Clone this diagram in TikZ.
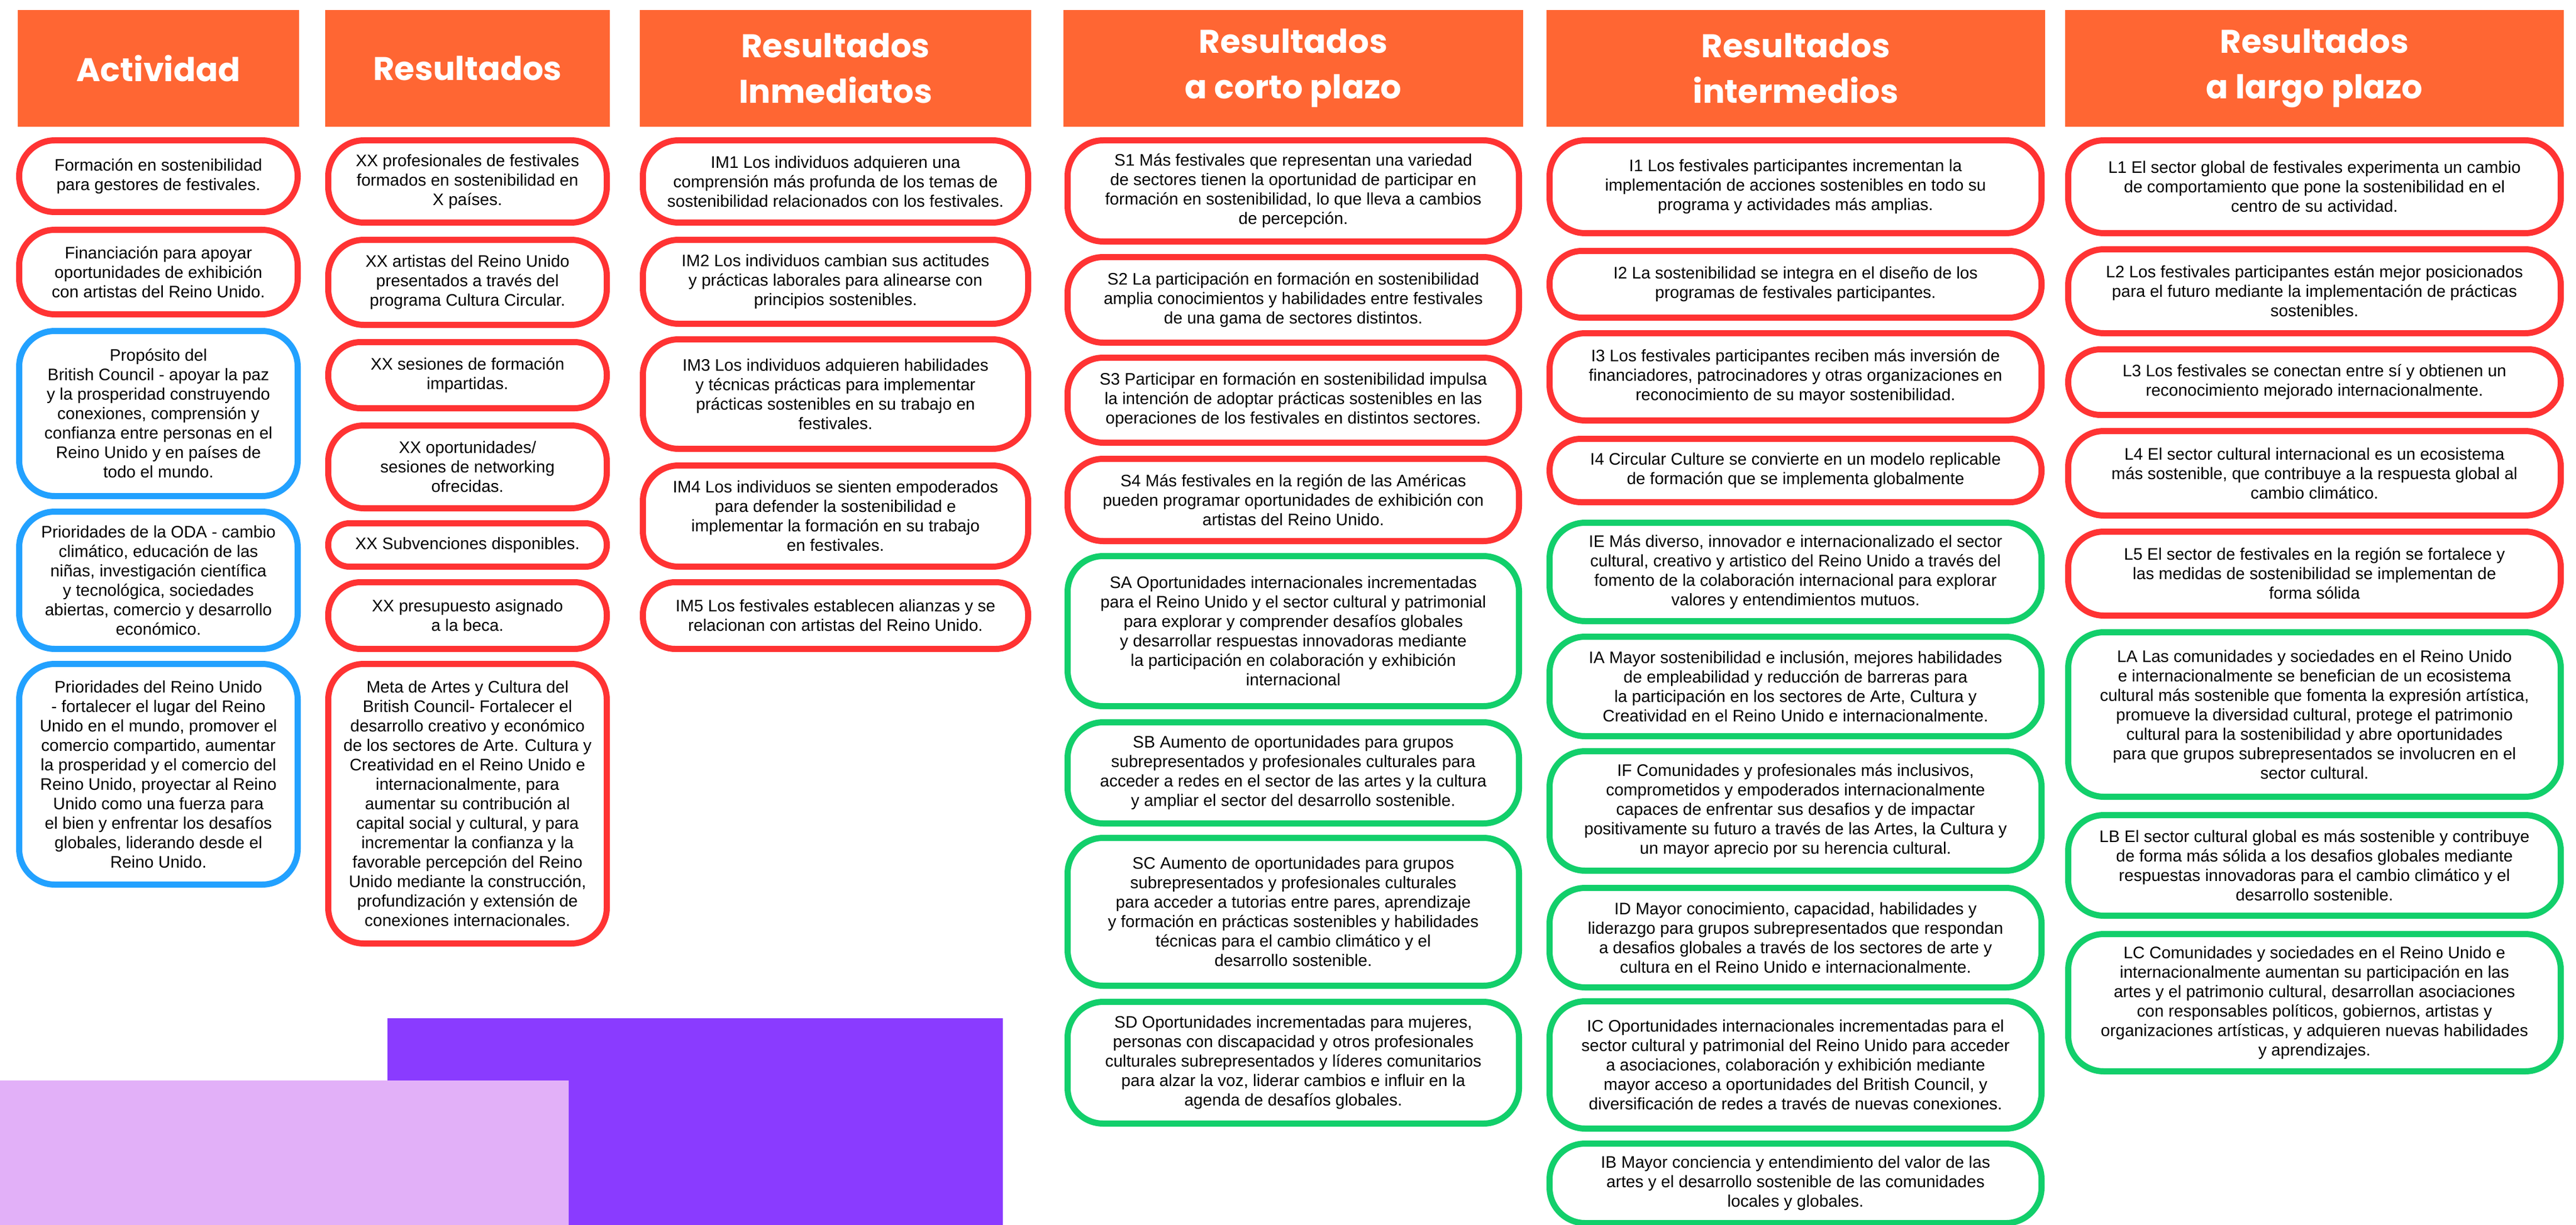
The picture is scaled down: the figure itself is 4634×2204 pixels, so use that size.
\documentclass[tikz,border=0pt]{standalone}
\usepackage{fontspec}
\setmainfont{Liberation Sans}
\newfontfamily\headfont{Poppins}
\definecolor{bcorange}{HTML}{FF6633}
\definecolor{bcred}{HTML}{FF3333}
\definecolor{bcblue}{HTML}{22A1FF}
\definecolor{bcgreen}{HTML}{12CF6B}
\definecolor{bcpurple}{HTML}{8A3BFF}
\definecolor{bclilac}{HTML}{E2B0F8}
\begin{document}
\begin{tikzpicture}[x=0.5pt,y=-0.5pt,
    head/.style={fill=bcorange, text=white, align=center, inner sep=0pt,
      minimum height=105pt, font=\headfont\bfseries\fontsize{29.5pt}{41pt}\selectfont},
    box/.style={draw, line width=5.5pt, fill=white, rounded corners=32pt,
      align=center, inner sep=0pt, font=\fontsize{15pt}{17.5pt}\selectfont},
    redbox/.style={box, draw=bcred},
    bluebox/.style={box, draw=bcblue},
    greenbox/.style={box, draw=bcgreen},
    colact/.style={minimum width=250.5pt},
    colres/.style={minimum width=250.5pt},
    colinm/.style={minimum width=346.5pt},
    colcor/.style={minimum width=406pt},
    colint/.style={minimum width=442.5pt},
    collar/.style={minimum width=443pt}]
  \useasboundingbox (0,0) rectangle (4634,2204);
  \fill[bcpurple] (697,1832) rectangle (1804,2204);
  \fill[bclilac] (0,1944) rectangle (1023,2204);

  \node[head, minimum width=253pt] (hact) at (285,123) {Actividad};
  \node[head, minimum width=256pt] (hres) at (841,123) {Resultados};
  \node[head, minimum width=352pt] (hinm) at (1503,123) {Resultados\\Inmediatos};
  \node[head, minimum width=413.5pt] (hcor) at (2326.5,123) {Resultados\\a corto plazo};
  \node[head, minimum width=448.5pt] (hint) at (3230.5,123) {Resultados\\intermedios};
  \node[head, minimum width=448.5pt] (hlar) at (4163.5,123) {Resultados\\a largo plazo};

  \node[redbox, colact, minimum height=64.5pt] (act1) at (285,317)
    {Formación en sostenibilidad\\para gestores de festivales.};
  \node[redbox, colact, minimum height=76pt] (act2) at (285,489.5)
    {Financiación para apoyar\\oportunidades de exhibición\\con artistas del Reino Unido.};
  \node[bluebox, colact, minimum height=148.5pt] (act3) at (285,744)
    {Propósito del\\British Council - apoyar la paz\\y la prosperidad construyendo\\conexiones, comprensión y\\confianza entre personas en el\\Reino Unido y en países de\\todo el mundo.};
  \node[bluebox, colact, minimum height=123.5pt] (act4) at (285,1044)
    {Prioridades de la ODA - cambio\\climático, educación de las\\niñas, investigación científica\\y tecnológica, sociedades\\abiertas, comercio y desarrollo\\económico.};
  \node[bluebox, colact, minimum height=198.5pt] (act5) at (285,1393)
    {Prioridades del Reino Unido\\- fortalecer el lugar del Reino\\Unido en el mundo, promover el\\comercio compartido, aumentar\\la prosperidad y el comercio del\\Reino Unido, proyectar al Reino\\Unido como una fuerza para\\el bien y enfrentar los desafíos\\globales, liderando desde el\\Reino Unido.};

  \node[redbox, colres, minimum height=74pt] (res1) at (841,326.5)
    {XX profesionales de festivales\\formados en sostenibilidad en\\X países.};
  \node[redbox, colres, minimum height=76.5pt] (res2) at (841,508)
    {XX artistas del Reino Unido\\presentados a través del\\programa Cultura Circular.};
  \node[redbox, colres, minimum height=59.5pt, rounded corners=29pt] (res3) at (841,675)
    {XX sesiones de formación\\impartidas.};
  \node[redbox, colres, minimum height=74.5pt] (res4) at (841,840)
    {XX oportunidades/\\sesiones de networking\\ofrecidas.};
  \node[redbox, colres, minimum height=39pt, rounded corners=19pt] (res5) at (841,980.5)
    {XX Subvenciones disponibles.};
  \node[redbox, colres, minimum height=60pt, rounded corners=29pt] (res6) at (841,1107.5)
    {XX presupuesto asignado\\a la beca.};
  \node[redbox, colres, minimum height=251.5pt] (res7) at (841,1446)
    {Meta de Artes y Cultura del\\British Council- Fortalecer el\\desarrollo creativo y económico\\de los sectores de Arte. Cultura y\\Creatividad en el Reino Unido e\\internacionalmente, para\\aumentar su contribución al\\capital social y cultural, y para\\incrementar la confianza y la\\favorable percepción del Reino\\Unido mediante la construcción,\\profundización y extensión de\\conexiones internacionales.};

  \node[redbox, colinm, minimum height=74pt] (inm1) at (1503,326.5)
    {IM1 Los individuos adquieren una\\comprensión más profunda de los temas de\\sostenibilidad relacionados con los festivales.};
  \node[redbox, colinm, minimum height=75.5pt] (inm2) at (1503,507)
    {IM2 Los individuos cambian sus actitudes\\y prácticas laborales para alinearse con\\principios sostenibles.};
  \node[redbox, colinm, minimum height=98.5pt] (inm3) at (1503,709)
    {IM3 Los individuos adquieren habilidades\\y técnicas prácticas para implementar\\prácticas sostenibles en su trabajo en\\festivales.};
  \node[redbox, colinm, minimum height=91pt] (inm4) at (1503,928.5)
    {IM4 Los individuos se sienten empoderados\\para defender la sostenibilidad e\\implementar la formación en su trabajo\\en festivales.};
  \node[redbox, colinm, minimum height=60pt, rounded corners=29pt] (inm5) at (1503,1107.5)
    {IM5 Los festivales establecen alianzas y se\\relacionan con artistas del Reino Unido.};

  \node[redbox, colcor, minimum height=91pt] (cor1) at (2326.5,343.5)
    {S1 Más festivales que representan una variedad\\de sectores tienen la oportunidad de participar en\\formación en sostenibilidad, lo que lleva a cambios\\de percepción.};
  \node[redbox, colcor, minimum height=77pt] (cor2) at (2326.5,539.5)
    {S2 La participación en formación en sostenibilidad\\amplia conocimientos y habilidades entre festivales\\de una gama de sectores distintos.};
  \node[redbox, colcor, minimum height=76.5pt] (cor3) at (2326.5,720)
    {S3 Participar en formación en sostenibilidad impulsa\\la intención de adoptar prácticas sostenibles en las\\operaciones de los festivales en distintos sectores.};
  \node[redbox, colcor, minimum height=74pt] (cor4) at (2326.5,899.5)
    {S4 Más festivales en la región de las Américas\\pueden programar oportunidades de exhibición con\\artistas del Reino Unido.};
  \node[greenbox, colcor, minimum height=135pt] (corA) at (2326.5,1135.5)
    {SA Oportunidades internacionales incrementadas\\para el Reino Unido y el sector cultural y patrimonial\\para explorar y comprender desafíos globales\\y desarrollar respuestas innovadoras mediante\\la participación en colaboración y exhibición\\internacional};
  \node[greenbox, colcor, minimum height=91pt] (corB) at (2326.5,1390.5)
    {SB Aumento de oportunidades para grupos\\subrepresentados y profesionales culturales para\\acceder a redes en el sector de las artes y la cultura\\y ampliar el sector del desarrollo sostenible.};
  \node[greenbox, colcor, minimum height=133pt] (corC) at (2326.5,1640.5)
    {SC Aumento de oportunidades para grupos\\subrepresentados y profesionales culturales\\para acceder a tutorias entre pares, aprendizaje\\y formación en prácticas sostenibles y habilidades\\técnicas para el cambio climático y el\\desarrollo sostenible.};
  \node[greenbox, colcor, minimum height=109.5pt] (corD) at (2326.5,1912)
    {SD Oportunidades incrementadas para mujeres,\\personas con discapacidad y otros profesionales\\culturales subrepresentados y líderes comunitarios\\para alzar la voz, liderar cambios e influir en la\\agenda de desafíos globales.};

  \node[redbox, colint, minimum height=83.5pt] (int1) at (3230,336)
    {I1 Los festivales participantes incrementan la\\implementación de acciones sostenibles en todo su\\programa y actividades más amplias.};
  \node[redbox, colint, minimum height=60pt, rounded corners=29pt] (int2) at (3230,511.5)
    {I2 La sostenibilidad se integra en el diseño de los\\programas de festivales participantes.};
  \node[redbox, colint, minimum height=78.5pt] (int3) at (3230,678)
    {I3 Los festivales participantes reciben más inversión de\\financiadores, patrocinadores y otras organizaciones en\\reconocimiento de su mayor sostenibilidad.};
  \node[redbox, colint, minimum height=57pt, rounded corners=28pt] (int4) at (3230,846.5)
    {I4 Circular Culture se convierte en un modelo replicable\\de formación que se implementa globalmente};
  \node[greenbox, colint, minimum height=88.5pt] (intE) at (3230,1029)
    {IE Más diverso, innovador e internacionalizado el sector\\cultural, creativo y artistico del Reino Unido a través del\\fomento de la colaboración internacional para explorar\\valores y entendimientos mutuos.};
  \node[greenbox, colint, minimum height=89.5pt] (intA) at (3230,1235)
    {IA Mayor sostenibilidad e inclusión, mejores habilidades\\de empleabilidad y reducción de barreras para\\la participación en los sectores de Arte, Cultura y\\Creatividad en el Reino Unido e internacionalmente.};
  \node[greenbox, colint, minimum height=107.5pt] (intF) at (3230,1459)
    {IF Comunidades y profesionales más inclusivos,\\comprometidos y empoderados internacionalmente\\capaces de enfrentar sus desafios y de impactar\\positivamente su futuro a través de las Artes, la Cultura y\\un mayor aprecio por su herencia cultural.};
  \node[greenbox, colint, minimum height=89.5pt] (intD) at (3230,1687)
    {ID Mayor conocimiento, capacidad, habilidades y\\liderazgo para grupos subrepresentados que respondan\\a desafios globales a través de los sectores de arte y\\cultura en el Reino Unido e internacionalmente.};
  \node[greenbox, colint, minimum height=114.5pt] (intC) at (3230,1916)
    {IC Oportunidades internacionales incrementadas para el\\sector cultural y patrimonial del Reino Unido para acceder\\a asociaciones, colaboración y exhibición mediante\\mayor acceso a oportunidades del British Council, y\\diversificación de redes a través de nuevas conexiones.};
  \node[greenbox, colint, minimum height=71.5pt] (intB) at (3230,2129)
    {IB Mayor conciencia y entendimiento del valor de las\\artes y el desarrollo sostenible de las comunidades\\locales y globales.};

  \node[redbox, collar, minimum height=83.5pt] (lar1) at (4163.5,336)
    {L1 El sector global de festivales experimenta un cambio\\de comportamiento que pone la sostenibilidad en el\\centro de su actividad.};
  \node[redbox, collar, minimum height=75.5pt] (lar2) at (4163.5,524)
    {L2 Los festivales participantes están mejor posicionados\\para el futuro mediante la implementación de prácticas\\sostenibles.};
  \node[redbox, collar, minimum height=59pt, rounded corners=29pt] (lar3) at (4163.5,687.5)
    {L3 Los festivales se conectan entre sí y obtienen un\\reconocimiento mejorado internacionalmente.};
  \node[redbox, collar, minimum height=76pt] (lar4) at (4163.5,851.5)
    {L4 El sector cultural internacional es un ecosistema\\más sostenible, que contribuye a la respuesta global al\\cambio climático.};
  \node[redbox, collar, minimum height=75.5pt] (lar5) at (4163.5,1032)
    {L5 El sector de festivales en la región se fortalece y\\las medidas de sostenibilidad se implementan de\\forma sólida};
  \node[greenbox, collar, minimum height=148pt] (larA) at (4163.5,1285.5)
    {LA Las comunidades y sociedades en el Reino Unido\\e internacionalmente se benefician de un ecosistema\\cultural más sostenible que fomenta la expresión artística,\\promueve la diversidad cultural, protege el patrimonio\\cultural para la sostenibilidad y abre oportunidades\\para que grupos subrepresentados se involucren en el\\sector cultural.};
  \node[greenbox, collar, minimum height=90.5pt] (larB) at (4163.5,1557)
    {LB El sector cultural global es más sostenible y contribuye\\de forma más sólida a los desafios globales mediante\\respuestas innovadoras para el cambio climático y el\\desarrollo sostenible.};
  \node[greenbox, collar, minimum height=123.5pt] (larC) at (4163.5,1804)
    {LC Comunidades y sociedades en el Reino Unido e\\internacionalmente aumentan su participación en las\\artes y el patrimonio cultural, desarrollan asociaciones\\con responsables políticos, gobiernos, artistas y\\organizaciones artísticas, y adquieren nuevas habilidades\\y aprendizajes.};
\end{tikzpicture}
\end{document}
